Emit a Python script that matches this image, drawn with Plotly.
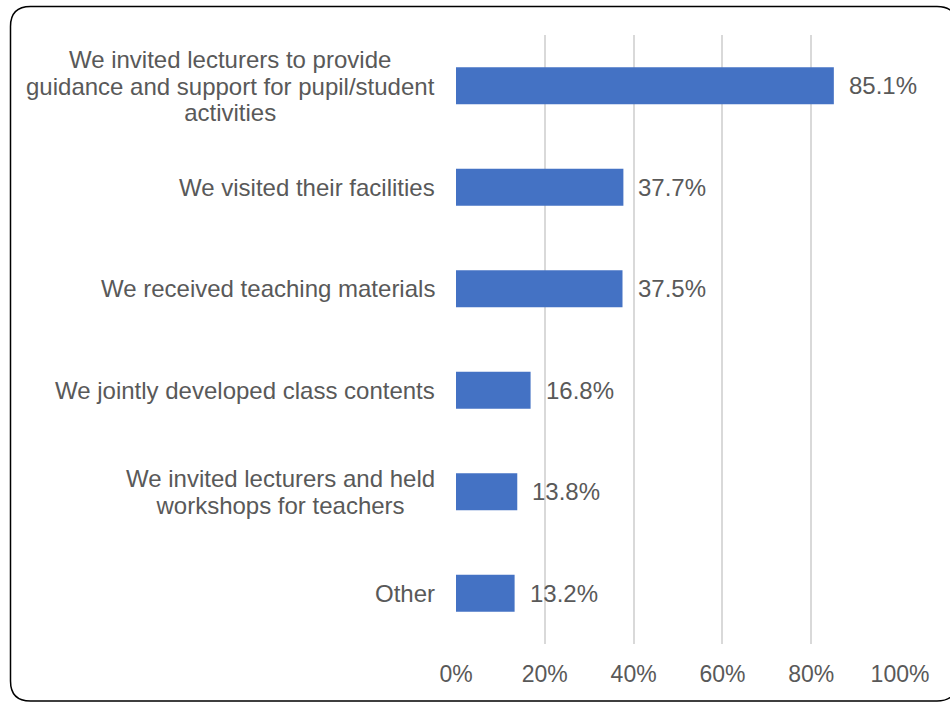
import plotly.graph_objects as go

# Survey responses: forms of cooperation
categories = [
    "We invited lecturers to provide<br>guidance and support for pupil/student<br>activities",
    "We visited their facilities",
    "We received teaching materials",
    "We jointly developed class contents",
    "We invited lecturers and held<br>workshops for teachers",
    "Other",
]
values = [85.1, 37.7, 37.5, 16.8, 13.8, 13.2]
tick_vals = [0, 20, 40, 60, 80, 100]
tick_text = ["0%", "20%", "40%", "60%", "80%", "100%"]

W, H = 950, 702
L, R, T, B = 456, 50, 35, 58
pw, ph = W - L - R, H - T - B

FONT = "Liberation Sans, Arial, sans-serif"
TXT = "#595959"

fig = go.Figure(go.Bar(
    x=values, y=categories, orientation="h",
    marker=dict(color="#4472C4", line=dict(width=0)),
    hoverinfo="skip",
))

annotations = []
for c, v in zip(categories, values):
    # category label: lines centred on each other, block right-aligned;
    # the smaller base size tightens the line spacing, the span sets glyph size
    annotations.append(dict(
        x=0, y=c, xref="paper", yref="y", xanchor="right", yanchor="middle",
        xshift=-19, showarrow=False, align="center",
        text="<br>".join(f'<span style="font-size:24px">{ln}</span>'
                         for ln in c.split("<br>")),
        font=dict(family=FONT, size=20.4, color=TXT),
    ))
    # value label
    annotations.append(dict(
        x=v, y=c, xref="x", yref="y", xanchor="left", yanchor="middle",
        xshift=13, text=f"{v:.1f}%", showarrow=False,
        font=dict(family=FONT, size=24, color=TXT),
    ))


def px(x):
    return (x - L) / pw


def py(y):
    return (H - B - y) / ph


# rounded outer frame
x0, x1, y0, y1, r = 10.5, 957, 6.5, 701, 20
path = (
    f"M {px(x0 + r)},{py(y0)} L {px(x1 - r)},{py(y0)} "
    f"Q {px(x1)},{py(y0)} {px(x1)},{py(y0 + r)} "
    f"L {px(x1)},{py(y1 - r)} Q {px(x1)},{py(y1)} {px(x1 - r)},{py(y1)} "
    f"L {px(x0 + r)},{py(y1)} Q {px(x0)},{py(y1)} {px(x0)},{py(y1 - r)} "
    f"L {px(x0)},{py(y0 + r)} Q {px(x0)},{py(y0)} {px(x0 + r)},{py(y0)} Z"
)

fig.update_layout(
    width=W, height=H,
    margin=dict(l=L, r=R, t=T, b=B, autoexpand=False),
    paper_bgcolor="white", plot_bgcolor="white",
    bargap=0.635,
    showlegend=False,
    annotations=annotations,
    shapes=[dict(type="path", path=path, xref="paper", yref="paper",
                 line=dict(color="black", width=1.5), layer="above")],
    xaxis=dict(
        range=[0, 100], tickvals=tick_vals, ticktext=tick_text,
        showgrid=True, gridcolor="#d9d9d9", gridwidth=1.5,
        zeroline=False, showline=False, ticks="",
        ticklabelstandoff=14,
        tickfont=dict(family=FONT, size=23, color=TXT),
        fixedrange=True,
    ),
    yaxis=dict(
        autorange="reversed", showticklabels=False, showgrid=False,
        zeroline=False, showline=False, ticks="", fixedrange=True,
    ),
)

fig.write_html("out.html", config={"displayModeBar": False})
